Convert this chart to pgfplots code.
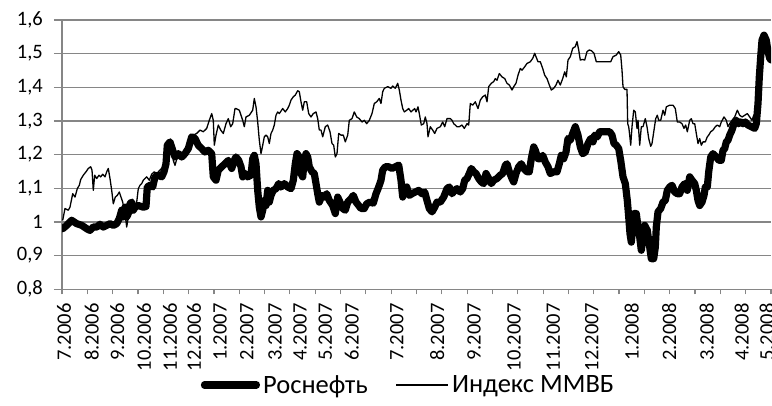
\documentclass[border=0pt]{standalone}
\usepackage{pgfplots}
\pgfplotsset{compat=1.18}
\usepackage{fontspec}
\setmainfont{Carlito}
\definecolor{gridgray}{RGB}{134,134,134}
\begin{document}
\begin{tikzpicture}
\path[use as bounding box] (-62bp,-116.7bp) rectangle (710bp,289.3bp);
\begin{axis}[
  scale only axis,
  width=709bp, height=269.3bp,
  xmin=0, xmax=709, ymin=0.8, ymax=1.6,
  axis x line=bottom, axis y line=left,
  axis line style={-, gridgray, line width=1.2bp},
  ymajorgrids, grid style={gridgray, line width=1.2bp},
  tick align=outside,
  tick style={gridgray, line width=1.2bp},
  major tick length=8bp,
  minor tick length=5bp,
  major x tick style={draw=none},
  ytick={0.8,0.9,1.0,1.1,1.2,1.3,1.4,1.5,1.6},
  yticklabels={{0,8},{0,9},1,{1,1},{1,2},{1,3},{1,4},{1,5},{1,6}},
  xtick={2,29.7,55.3,82,108,132,158,184.7,213,238,263.3,289.7,334.7,375.3,412,452,491.3,529.7,569.7,607.3,644.7,679.7,704.7},
  xticklabels={7.2006,8.2006,9.2006,10.2006,11.2006,12.2006,1.2007,2.2007,3.2007,4.2007,5.2007,6.2007,7.2007,8.2007,9.2007,10.2007,11.2007,12.2007,1.2008,2.2008,3.2008,4.2008,5.2008},
  minor xtick={0,25.3214,...,710},
  xticklabel style={rotate=90, anchor=east, inner sep=0pt, font=\fontsize{20.5bp}{24bp}\selectfont},
  yticklabel style={anchor=east, inner sep=0pt, font=\fontsize{20.5bp}{24bp}\selectfont},
  xticklabel shift=6bp,
  yticklabel shift=11bp,
  legend columns=2,
  legend style={at={(0.4894,-0.355)}, anchor=center, draw=none, fill=none,
    font=\fontsize{26.5bp}{31bp}\selectfont,
    nodes={inner sep=3bp},
    /tikz/every even column/.append style={column sep=25bp}},
  legend image code/.code={\draw[#1] (0bp,0bp) -- (52bp,0bp);},
]
\addplot[black, line width=7.2bp, line join=round, line cap=round] coordinates {
(0.7,0.980)(4.7,0.990)(9.7,1.005)(14.7,0.995)(19.7,0.990)(24.7,0.980)(28,0.975)(31.3,0.985)(34.7,0.985)(38,0.993)(41.3,0.985)(44.7,0.990)(48,0.995)(51.3,0.990)(54.7,0.995)(57.3,1.010)(59.7,1.035)(61.3,1.015)(63,1.044)(64.7,1.015)(66.3,1.025)(68,1.054)(69.7,1.059)(71.3,1.035)(73,1.044)(76.3,1.049)(81.3,1.044)(84,1.046)(85.3,1.104)(88,1.109)(90.7,1.104)(93,1.134)(96.3,1.139)(99.7,1.134)(102,1.149)(104,1.173)(105.3,1.228)(108,1.238)(110.7,1.213)(113,1.193)(116.3,1.203)(119.7,1.193)(123,1.203)(126.3,1.218)(129.7,1.253)(133,1.248)(136.3,1.228)(139.7,1.218)(143,1.208)(146.3,1.213)(149.7,1.203)(151.3,1.134)(154,1.124)(156.3,1.154)(159.7,1.164)(163,1.173)(166.3,1.183)(169.7,1.159)(173,1.188)
(174,1.193)(176.7,1.183)(179,1.164)(180.7,1.134)(183.3,1.144)(185.7,1.134)(189,1.139)(190.7,1.188)(192.3,1.198)(194,1.173)(195.7,1.094)(197.3,1.044)(199,1.015)(200.7,1.035)(202.3,1.064)(204,1.049)(205.7,1.094)(207.3,1.059)(209,1.079)(211.3,1.094)(214,1.099)(216.7,1.114)(219,1.104)(222.3,1.114)(225.7,1.104)(229,1.099)(231.3,1.124)(233.3,1.173)(235,1.203)(237.3,1.193)(239,1.144)(240.7,1.134)(242.3,1.183)(244,1.203)(245.7,1.193)(247.3,1.164)(250,1.149)(252.3,1.144)(254,1.114)(255.7,1.084)(257.3,1.059)(260,1.079)(262.3,1.074)(264.7,1.084)(267.3,1.064)(270.7,1.049)(273.3,1.025)(275.7,1.074)(278,1.059)(280.7,1.040)(283.3,1.035)(285.7,1.059)(289,1.069)(291.3,1.079)(294,1.059)(296.7,1.049)(299,1.040)(302.3,1.040)(304.7,1.054)(308,1.059)(311.3,1.056)(314,1.084)(316.7,1.104)(319,1.124)(320.7,1.154)(323.3,1.164)(326.7,1.164)(330,1.159)(333.3,1.164)(336.7,1.169)(339,1.124)(340.7,1.074)(342.3,1.094)(344.7,1.104)(347.3,1.079)
(350,1.084)(353.3,1.089)(356.7,1.094)(360,1.084)(362.7,1.089)(365,1.064)(367.3,1.040)(370,1.030)(372.7,1.044)(375,1.059)(378.3,1.059)(381.7,1.074)(385,1.099)(387.3,1.104)(390,1.084)(392.7,1.094)(395,1.099)(398.3,1.089)(400.7,1.099)(402.7,1.124)(405,1.129)(407.3,1.144)(409.3,1.159)(411.7,1.149)(414,1.144)(416.7,1.129)(419.3,1.119)(421.7,1.114)(424,1.144)(426.7,1.129)(429.3,1.114)(431.7,1.124)(435,1.129)(438.3,1.139)(440.7,1.144)(443.3,1.168)(445,1.173)(447.3,1.149)(450,1.129)(451.7,1.119)(454,1.144)(456.7,1.164)(459.3,1.173)(461.7,1.159)(465,1.149)(467.3,1.149)(469.3,1.188)(471.7,1.223)(473.3,1.213)(476,1.188)(478.3,1.188)(480.7,1.198)(483.3,1.178)(486,1.164)(488.3,1.144)(491.7,1.149)(495,1.149)(497.3,1.173)(499.3,1.198)(501.7,1.188)(504,1.208)(506,1.248)(508.3,1.243)(510.7,1.263)(513.3,1.283)(516,1.258)(518.3,1.223)(520.7,1.203)(523.3,1.208)(526,1.233)
(528.7,1.248)(531,1.238)(532.7,1.258)(535.3,1.253)(537.7,1.268)(541,1.268)(544.3,1.268)(547.7,1.268)(550,1.258)(552,1.233)(554.3,1.228)(556.7,1.218)(558.7,1.183)(561,1.134)(563.3,1.114)(565.3,1.064)(566.7,1.015)(568,0.965)(569.3,0.940)(571,0.995)(572,1.025)(574.3,1.025)(576,0.985)(577.7,0.955)(579.3,0.916)(581,0.955)(582.7,0.990)(585.3,0.975)(587.7,0.925)(589.3,0.891)(591.7,0.891)(593.3,0.925)(594.3,0.985)(596,1.030)(598.7,1.040)(601,1.059)(603.3,1.064)(605.3,1.094)(607.7,1.104)(610,1.109)(612.7,1.089)(615.3,1.084)(617.7,1.084)(620,1.104)(622.7,1.114)(625.3,1.094)(627.7,1.134)(630,1.124)(632.7,1.114)(634.3,1.094)(636,1.064)(637.7,1.049)(640,1.059)(642,1.079)(643.3,1.104)(645.3,1.104)(646.7,1.149)(648.7,1.193)(651,1.203)(654.3,1.193)(657,1.183)(659.3,1.183)(661,1.213)(662.7,1.218)(664.3,1.238)(666,1.243)(667.7,1.258)(670,1.273)(672,1.292)(674.3,1.302)(676.7,1.292)(678.7,1.297)(681,1.292)(683.3,1.297)(686,1.288)(689.3,1.283)(692.7,1.278)(694.3,1.292)(696,1.352)(697.3,1.431)(698.7,1.491)(700,1.540)(702,1.555)(704.3,1.540)(706,1.506)(707.7,1.486)(709.3,1.481)
};
\addlegendentry{Роснефть}
\addplot[black, line width=1.3bp, line join=round] coordinates {
(0.7,1.005)(3,1.040)(6.3,1.035)(8,1.044)(10.7,1.084)(13,1.074)(15.3,1.099)(17.3,1.109)(18.7,1.126)(21.3,1.139)(24,1.149)(26.3,1.159)(28.7,1.164)(30,1.154)(31.3,1.094)(32.7,1.139)(34.7,1.129)(37,1.139)(38.7,1.134)(40.7,1.142)(43,1.134)(44.7,1.149)(46.3,1.159)(48,1.129)(49.7,1.094)(51.3,1.054)(53.3,1.074)(55.3,1.079)(57.3,1.089)(59,1.074)(60.7,1.059)(63,1.025)(64.7,0.985)(66.3,1.015)(68,1.044)(69.7,1.059)(71.3,1.064)(73,1.044)(74.7,1.059)(76.3,1.099)(78,1.109)(79.7,1.114)(81.3,1.124)(83,1.129)(84.7,1.134)(87.3,1.124)(89.7,1.142)(92.3,1.149)(94.7,1.144)(98,1.154)(101.3,1.164)(104,1.183)(105.3,1.218)(108,1.233)(111.3,1.183)(113,1.168)(115.3,1.193)(118,1.208)(121.3,1.203)(124.7,1.208)(128,1.253)(131.3,1.258)(134.7,1.263)(138,1.273)(141.3,1.268)(144.7,1.278)(147.3,1.302)(149.7,1.322)(151.3,1.302)(152.3,1.228)(154,1.258)(156.3,1.288)(158.7,1.273)(161.3,1.263)(164,1.292)(166.3,1.307)(168.7,1.283)(170.7,1.292)(173,1.337)
(174,1.337)(177.3,1.332)(180.7,1.302)(182.3,1.283)(184,1.312)(187.3,1.317)(190.7,1.332)(192.3,1.367)(194,1.342)(195.7,1.297)(197.3,1.243)(199,1.203)(200.7,1.228)(202.3,1.253)(204,1.258)(205.7,1.253)(207.3,1.233)(209,1.263)(210.7,1.273)(212.3,1.288)(214,1.317)(215.7,1.327)(217.3,1.322)(220.7,1.337)(223.3,1.327)(225.7,1.337)(227.3,1.347)(229,1.362)(231.3,1.372)(233.3,1.377)(235.7,1.390)(237.3,1.387)(239,1.357)(240.7,1.332)(242.3,1.357)(244.7,1.357)(246.7,1.322)(249,1.312)(251.3,1.322)(254,1.327)(255.7,1.307)(257.3,1.273)(259,1.273)(260.7,1.253)(263.3,1.283)(265.7,1.288)(268,1.268)(270,1.233)(271.7,1.228)(273.3,1.193)(275,1.203)(276.7,1.263)(279,1.258)(281.3,1.258)(283.3,1.238)(285.7,1.258)(287.3,1.302)(290,1.307)(292.3,1.327)(294.7,1.312)(297.3,1.307)(300,1.297)(302.3,1.302)(304.7,1.292)(307.3,1.302)(310,1.322)(312.3,1.352)(314.7,1.357)(317.3,1.367)(319,1.352)(320.7,1.387)(322.3,1.397)(325.7,1.402)(329,1.397)(330.7,1.404)(333.3,1.397)(335.7,1.412)(337.3,1.392)(339,1.362)(340.7,1.337)(342.3,1.327)(344.7,1.332)(346.7,1.337)(349,1.327)
(352.7,1.337)(354,1.327)(356,1.342)(357.3,1.322)(359.3,1.288)(361.7,1.292)(363.3,1.312)(365,1.292)(366,1.253)(368.3,1.283)(370.7,1.273)(372.7,1.263)(375,1.278)(378.3,1.283)(380.7,1.297)(382.7,1.283)(385,1.307)(388.3,1.307)(390,1.302)(391.7,1.292)(393.3,1.288)(395,1.283)(397.3,1.283)(400,1.288)(402.3,1.278)(405,1.292)(406.7,1.288)(408.3,1.352)(410.7,1.347)(413.3,1.357)(416,1.337)(418.3,1.362)(420.7,1.372)(423.3,1.377)(425,1.357)(426.7,1.402)(429.3,1.412)(431.7,1.417)(433.3,1.426)(435,1.421)(437.3,1.441)(440,1.431)(442.7,1.426)(445,1.412)(447.3,1.407)(450,1.392)(451.7,1.402)(454,1.412)(456,1.436)(458.3,1.456)(460,1.451)(462.7,1.461)(465,1.471)(468.3,1.476)(470.7,1.486)(472.7,1.501)(474,1.491)(476,1.476)(478.3,1.476)(480.7,1.456)(482.7,1.436)(485,1.426)(487.3,1.407)(489.3,1.392)(491.7,1.397)(494,1.407)(496,1.421)(498.3,1.407)(500.7,1.426)(502.7,1.446)(504.3,1.431)(506,1.481)(508.3,1.491)(510.7,1.516)(513.3,1.521)(515,1.536)(516.7,1.511)(518.3,1.481)(520.7,1.483)(522.7,1.481)(525,1.506)(527.3,1.511)
(529.3,1.509)(532,1.501)(534.3,1.476)(537.7,1.476)(542.7,1.476)(548.7,1.476)(551,1.491)(554.3,1.496)(556.7,1.506)(558.7,1.496)(560,1.451)(561,1.402)(562.7,1.394)(565,1.394)(565.7,1.292)(566.7,1.283)(567.7,1.258)(568.7,1.228)(570,1.283)(571.7,1.332)(573.3,1.327)(575,1.278)(576,1.302)(577.7,1.228)(579.3,1.283)(581,1.283)(583.3,1.307)(585,1.283)(586.7,1.248)(588.7,1.225)(590,1.233)(592,1.273)(593.7,1.307)(595.3,1.317)(596.7,1.302)(598.7,1.302)(601,1.332)(602.7,1.317)(604.3,1.342)(607.7,1.347)(611,1.347)(613.3,1.337)(615.3,1.297)(617.7,1.297)(620,1.292)(622,1.278)(623.7,1.288)(625.3,1.268)(627.7,1.302)(629.3,1.307)(631,1.292)(632.7,1.292)(634.3,1.263)(636,1.233)(637.7,1.248)(639.3,1.228)(641,1.238)(643.3,1.238)(645.3,1.253)(646.7,1.258)(648.7,1.268)(651,1.273)(653.3,1.283)(655.3,1.288)(657.7,1.283)(659.3,1.297)(662,1.312)(664.3,1.302)(666,1.283)(667.7,1.292)(670,1.302)(672.7,1.312)(675.3,1.332)(677.7,1.317)(680,1.312)(682.7,1.317)(685.3,1.322)(687.7,1.312)(690,1.302)(691.7,1.317)(694.3,1.310)
};
\addlegendentry{Индекс ММВБ}
\end{axis}
\end{tikzpicture}
\end{document}
